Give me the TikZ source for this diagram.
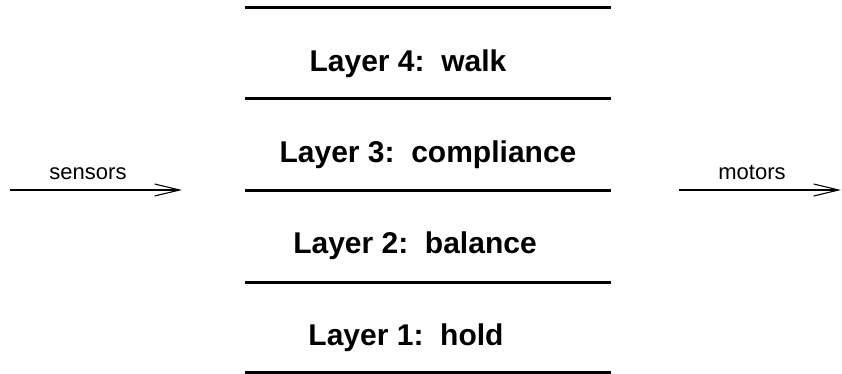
\documentclass[tikz,border=0pt]{standalone}
\usepackage{fontspec}
\setmainfont{Liberation Sans}
\usetikzlibrary{arrows.meta}
\begin{document}
\begin{tikzpicture}[x=1pt,y=-1pt,
  divider/.style={line width=3pt},
  flow/.style={line width=1.1pt,-{Straight Barb[length=25pt,width=12pt,line width=1.1pt]}},
  layertext/.style={anchor=base,inner sep=0pt,font=\fontsize{30}{34}\selectfont\bfseries},
  flowtext/.style={anchor=base,inner sep=0pt,font=\fontsize{22}{26}\selectfont}]
  \useasboundingbox (0,0) rectangle (842,374);

  % layer dividers
  \foreach \n/\y in {a/8,b/99,c/190,d/282,e/372}{
    \coordinate (\n L) at (245,\y);
    \coordinate (\n R) at (611,\y);
    \draw[divider] (\n L) -- (\n R);
  }

  % layer names
  \node[layertext] (l4) at (408,72)  {Layer 4:~~walk};
  \node[layertext] (l3) at (428,162) {Layer 3:~~compliance};
  \node[layertext] (l2) at (415,253) {Layer 2:~~balance};
  \node[layertext] (l1) at (406,345) {Layer 1:~~hold};

  % inputs and outputs
  \coordinate (sin)  at (10,190);
  \coordinate (sout) at (182,190);
  \coordinate (min)  at (679,190);
  \coordinate (mout) at (841,190);
  \draw[flow] (sin) -- (sout);
  \draw[flow] (min) -- (mout);
  \node[flowtext] (sensors) at (88,179) {sensors};
  \node[flowtext] (motors)  at (752,179) {motors};
\end{tikzpicture}
\end{document}
